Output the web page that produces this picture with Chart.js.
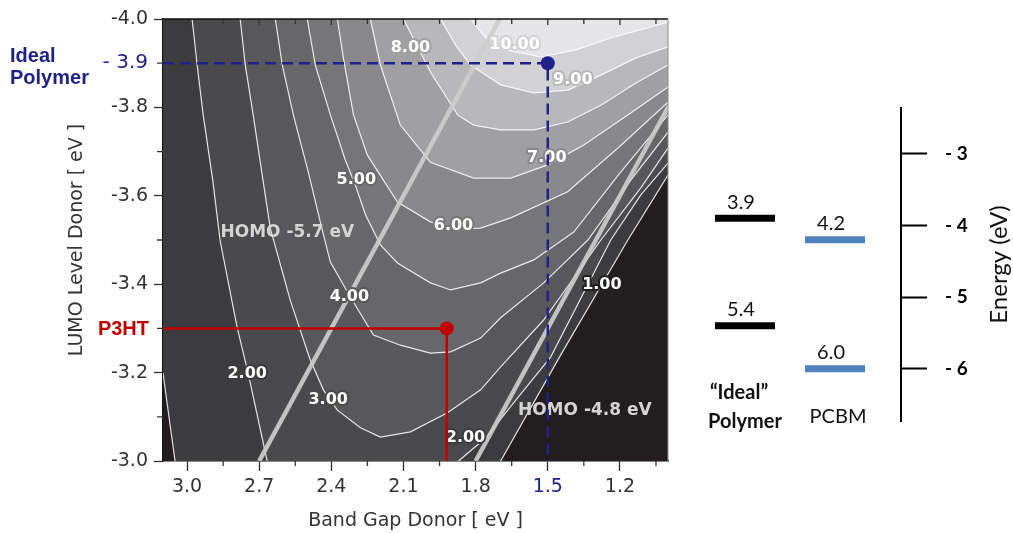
<!DOCTYPE html>
<html>
<head>
<meta charset="utf-8">
<title>Donor efficiency contours</title>
<script src="https://cdn.jsdelivr.net/npm/chart.js@4.4.1/dist/chart.umd.min.js"></script>
<style>
  html, body { margin: 0; padding: 0; background: #fff; }
  #wrap { position: relative; width: 1013px; height: 533px; }
  #contour { position: absolute; left: 0; top: 0; }
  #levels { position: absolute; left: 690px; top: 0; }
</style>
</head>
<body>
<div id="wrap">
  <canvas id="contour" width="690" height="533" style="width:690px;height:533px"></canvas>
  <canvas id="levels" width="323" height="533" style="width:323px;height:533px"></canvas>
</div>
<script>
// axis ranges and ticks
const gapMin = 1.0, gapMax = 3.1;
const lumoMin = -4.0, lumoMax = -3.0;
const gapTicks = [3.0, 2.7, 2.4, 2.1, 1.8, 1.5, 1.2];
const gapMinorTicks = [2.85, 2.55, 2.25, 1.95, 1.65, 1.35, 1.05];
const lumoTicks = [-4.0, -3.9, -3.8, -3.6, -3.4, -3.2, -3.0];
const lumoMinorTicks = [-3.9, -3.7, -3.5, -3.3, -3.1];

// efficiency contours (%), each point is [band gap, LUMO]
const contourLevels = [1, 2, 3, 4, 5, 6, 7, 8, 9, 10];
const eff1 = [[3.1,-3.199],[3.05,-3.0],[2.946,-2.821],[1.904,-2.776],[1.696,-3.0],[1.446,-3.24],[1.167,-3.5],[1.0,-3.647]];
const eff2 = [[2.979,-4.0],[2.958,-3.896],[2.933,-3.783],[2.892,-3.631],[2.863,-3.5],[2.792,-3.303],[2.746,-3.199],[2.667,-3.0],[2.571,-2.821],[2.029,-2.821],[1.871,-3.0],[1.758,-3.052],[1.633,-3.138],[1.488,-3.235],[1.238,-3.5],[1.113,-3.602],[1.0,-3.674]];
const eff3 = [[2.779,-4.0],[2.758,-3.896],[2.725,-3.783],[2.683,-3.631],[2.654,-3.527],[2.571,-3.364],[2.488,-3.229],[2.433,-3.161],[2.375,-3.115],[2.279,-3.075],[2.196,-3.054],[2.071,-3.066],[1.917,-3.109],[1.779,-3.161],[1.696,-3.213],[1.517,-3.319],[1.279,-3.5],[1.113,-3.618],[1.0,-3.708]];
const eff4 = [[2.633,-4.0],[2.604,-3.896],[2.558,-3.783],[2.496,-3.654],[2.446,-3.541],[2.404,-3.45],[2.321,-3.371],[2.225,-3.285],[2.113,-3.262],[1.988,-3.244],[1.904,-3.247],[1.779,-3.278],[1.696,-3.324],[1.517,-3.403],[1.333,-3.5],[1.154,-3.636],[1.0,-3.744]];
const eff5 = [[2.5,-4.0],[2.467,-3.896],[2.404,-3.783],[2.342,-3.681],[2.3,-3.624],[2.258,-3.557],[2.196,-3.489],[2.125,-3.448],[1.988,-3.403],[1.904,-3.387],[1.779,-3.403],[1.696,-3.425],[1.558,-3.455],[1.392,-3.518],[1.196,-3.654],[1.0,-3.783]];
const eff6 = [[2.375,-4.0],[2.35,-3.912],[2.308,-3.783],[2.25,-3.692],[2.125,-3.586],[1.988,-3.541],[1.892,-3.525],[1.779,-3.527],[1.654,-3.55],[1.417,-3.609],[1.208,-3.708],[1.0,-3.812]];
const eff7 = [[2.238,-4.0],[2.196,-3.896],[2.113,-3.76],[1.988,-3.676],[1.808,-3.64],[1.654,-3.64],[1.5,-3.67],[1.35,-3.715],[1.167,-3.783],[1.0,-3.846]];
const eff8 = [[2.1,-4.0],[1.988,-3.88],[1.875,-3.783],[1.808,-3.76],[1.696,-3.749],[1.558,-3.749],[1.417,-3.767],[1.279,-3.805],[1.133,-3.855],[1.0,-3.896]];
const eff9 = [[1.946,-4.0],[1.883,-3.941],[1.821,-3.896],[1.696,-3.851],[1.558,-3.833],[1.417,-3.839],[1.279,-3.873],[1.133,-3.912],[1.0,-3.937]];
const eff10 = [[1.821,-4.0],[1.758,-3.957],[1.675,-3.93],[1.529,-3.914],[1.383,-3.93],[1.238,-3.957],[1.0,-3.993]];
const contours = [eff1, eff2, eff3, eff4, eff5, eff6, eff7, eff8, eff9, eff10];

// inline contour labels: [text, band gap, LUMO]
const contourLabels = [
  ['1.00', 1.275, -3.398], ['2.00', 2.75, -3.197], ['2.00', 1.842, -3.052],
  ['3.00', 2.413, -3.138], ['4.00', 2.325, -3.371], ['5.00', 2.296, -3.636],
  ['6.00', 1.892, -3.532], ['7.00', 1.504, -3.686], ['8.00', 2.071, -3.934],
  ['9.00', 1.396, -3.862], ['10.00', 1.638, -3.941]
];

// constant HOMO lines (LUMO = gap + HOMO) and where their names sit
const homoLevels = [-5.7, -4.8];
const homoLabelPos = [[2.583, -3.516], [1.346, -3.115]];

// marked donors
const idealGap = 1.5, idealLumo = -3.9;
const p3htGap = 1.92, p3htLumo = -3.3;

// energy level diagram
const levelColumns = [['\u201CIdeal\u201D', 'Polymer'], ['PCBM']];
const polymerLevels = [3.9, 5.4];
const pcbmLevels = [4.2, 6.0];
const energyTicks = [-3, -4, -5, -6];

// styles
const navy = '#1f2288';
const red = '#c00000';
const baseFill = '#221e1f';
const bandFill = ['#3c3b3e', '#4a4a4d', '#58585b', '#67676a', '#767679', '#89898c', '#a0a0a3', '#b8b8bb', '#d2d2d5', '#e6e6e8'];

Chart.defaults.font.family = '"DejaVu Sans", sans-serif';

const contourSets = contours.map((pts, i) => ({
  type: 'line',
  label: contourLevels[i] + '%',
  data: pts.map(p => ({x: p[0], y: p[1]})),
  borderColor: 'rgba(255,255,255,0.85)',
  borderWidth: 1.2,
  backgroundColor: bandFill[i],
  fill: {value: lumoMin},
  pointRadius: 0,
  order: 100 - i
}));

const homoSets = homoLevels.map((h, i) => ({
  type: 'line',
  label: 'HOMO ' + h,
  data: [lumoMax, lumoMin].map(l => ({x: l - h, y: l})),
  borderColor: 'rgba(204,204,204,0.92)',
  borderWidth: 4.5,
  pointRadius: 0,
  fill: false,
  order: 11 - i
}));

const markerSets = [
  {
    type: 'line', label: 'ideal guide', labelsBelow: true,
    data: [{x: gapMax, y: idealLumo}, {x: idealGap, y: idealLumo}, {x: idealGap, y: lumoMax}],
    borderColor: navy, borderWidth: 2.5, borderDash: [11, 6], pointRadius: 0, fill: false, order: 4
  },
  {
    type: 'line', label: 'P3HT guide',
    data: [{x: gapMax, y: p3htLumo}, {x: p3htGap, y: p3htLumo}, {x: p3htGap, y: lumoMax}],
    borderColor: red, borderWidth: 2.5, pointRadius: 0, fill: false, order: 3
  },
  {
    type: 'scatter', label: 'ideal',
    data: [{x: idealGap, y: idealLumo}],
    pointRadius: 7, pointBackgroundColor: navy, pointBorderWidth: 0, order: 2
  },
  {
    type: 'scatter', label: 'P3HT',
    data: [{x: p3htGap, y: p3htLumo}],
    pointRadius: 7, pointBackgroundColor: red, pointBorderWidth: 0, order: 1
  }
];

const contourDecor = {
  id: 'contourDecor',
  beforeDatasetsDraw(chart) {
    const {ctx, chartArea: a} = chart;
    ctx.save();
    ctx.fillStyle = baseFill;
    ctx.fillRect(a.left, a.top, a.right - a.left, a.bottom - a.top);
    ctx.restore();
  },
  beforeDatasetDraw(chart, args) {
    if (!chart.data.datasets[args.index].labelsBelow) return;
    const {ctx, scales: {x, y}} = chart;
    ctx.save();
    ctx.textAlign = 'center';
    ctx.textBaseline = 'middle';
    ctx.font = 'bold 16px "DejaVu Sans"';
    ctx.lineWidth = 4;
    ctx.lineJoin = 'round';
    contourLabels.forEach(([t, g, l]) => {
      const lvl = Math.round(parseFloat(t));
      const px = x.getPixelForValue(g), py = y.getPixelForValue(l);
      // halo in the band colour so the white line breaks under the text
      ctx.strokeStyle = lvl > 1 ? bandFill[lvl - 2] : baseFill;
      ctx.strokeText(t, px, py);
      ctx.fillStyle = '#ffffff';
      ctx.fillText(t, px, py);
    });
    ctx.font = 'bold 17px "DejaVu Sans"';
    ctx.fillStyle = '#d4d4d4';
    homoLevels.forEach((h, i) => {
      ctx.fillText('HOMO ' + h + ' eV', x.getPixelForValue(homoLabelPos[i][0]), y.getPixelForValue(homoLabelPos[i][1]));
    });
    ctx.restore();
  },
  afterDraw(chart) {
    const {ctx, chartArea: a, scales: {x, y}} = chart;
    ctx.save();
    ctx.strokeStyle = '#333';
    ctx.lineWidth = 1.3;
    ctx.beginPath();
    gapMinorTicks.forEach(v => {
      const px = x.getPixelForValue(v);
      ctx.moveTo(px, a.bottom); ctx.lineTo(px, a.bottom + 5);
      ctx.moveTo(px, a.top); ctx.lineTo(px, a.top + 5);
    });
    gapTicks.forEach(v => {
      const px = x.getPixelForValue(v);
      ctx.moveTo(px, a.top); ctx.lineTo(px, a.top + 6);
    });
    lumoMinorTicks.forEach(v => {
      const py = y.getPixelForValue(v);
      ctx.moveTo(a.left - 6, py); ctx.lineTo(a.left, py);
    });
    ctx.stroke();
    // frame top and right
    ctx.strokeStyle = '#111';
    ctx.lineWidth = 1.5;
    ctx.beginPath();
    ctx.moveTo(a.left, a.top); ctx.lineTo(a.right, a.top);
    ctx.stroke();
    ctx.strokeStyle = '#8c8c8c';
    ctx.lineWidth = 1;
    ctx.beginPath();
    ctx.moveTo(a.right, a.top); ctx.lineTo(a.right, a.bottom);
    ctx.stroke();
    // names of the marked donors
    const iy = y.getPixelForValue(idealLumo);
    ctx.font = 'bold 20px "Liberation Sans"';
    ctx.fillStyle = navy;
    ctx.textAlign = 'left';
    ctx.textBaseline = 'alphabetic';
    ctx.fillText('Ideal', 10, iy - 1);
    ctx.fillText('Polymer', 10, iy + 21);
    ctx.fillStyle = red;
    ctx.textAlign = 'right';
    ctx.textBaseline = 'middle';
    ctx.fillText('P3HT', 149, y.getPixelForValue(p3htLumo) + 1);
    ctx.restore();
  }
};

new Chart(document.getElementById('contour'), {
  type: 'line',
  data: {datasets: [...contourSets, ...homoSets, ...markerSets]},
  options: {
    responsive: false,
    animation: false,
    events: [],
    layout: {autoPadding: false, padding: {left: 62, top: 19, right: 22, bottom: 0}},
    plugins: {legend: {display: false}, tooltip: {enabled: false}},
    scales: {
      x: {
        type: 'linear', reverse: true, min: gapMin, max: gapMax,
        afterBuildTicks: s => { s.ticks = gapTicks.map(v => ({value: v})); },
        afterFit: s => { s.height = 72; },
        grid: {drawOnChartArea: false, tickLength: 10, tickColor: '#333', tickWidth: 1.3},
        border: {color: '#111', width: 1.5},
        ticks: {
          padding: 5, maxRotation: 0, autoSkip: false,
          color: c => (c.tick && c.tick.value === idealGap ? navy : '#333'),
          font: {size: 19},
          callback: v => v.toFixed(1)
        },
        title: {display: true, text: 'Band Gap Donor [ eV ]', color: '#333', font: {size: 19}, padding: {top: 0, bottom: 1}}
      },
      y: {
        type: 'linear', reverse: true, min: lumoMin, max: lumoMax,
        afterBuildTicks: s => { s.ticks = lumoTicks.map(v => ({value: v})); },
        afterFit: s => { s.width = 101; },
        grid: {
          drawOnChartArea: false, tickLength: 9, tickWidth: 1.3,
          tickColor: c => (c.tick && c.tick.value === idealLumo ? 'rgba(0,0,0,0)' : '#333')
        },
        border: {color: '#111', width: 1.5},
        ticks: {
          padding: 6,
          color: c => (c.tick && c.tick.value === idealLumo ? navy : '#333'),
          font: c => ({size: c.tick && c.tick.value === idealLumo ? 20 : 19}),
          callback: v => (v === idealLumo ? '- ' + Math.abs(v).toFixed(1) : v.toFixed(1))
        },
        title: {display: true, text: 'LUMO Level Donor [ eV ]', color: '#333', font: {size: 19}}
      }
    }
  },
  plugins: [contourDecor]
});

// right-hand energy diagram
const levelText = {
  id: 'levelText',
  afterDatasetsDraw(chart) {
    const {ctx, chartArea: a, scales: {x}} = chart;
    ctx.save();
    ctx.fillStyle = '#111';
    ctx.textAlign = 'center';
    ctx.textBaseline = 'middle';
    ctx.font = '20px Lato';
    chart.data.datasets.forEach((ds, i) => {
      chart.getDatasetMeta(i).data.forEach((pt, j) => {
        ctx.fillText(ds.levels[j].toFixed(1), pt.x - 4, pt.y - 16);
      });
    });
    ctx.font = 'bold 20px Lato';
    ctx.fillText(levelColumns[0][0], x.getPixelForValue(1) - 6, a.bottom - 28);
    ctx.fillText(levelColumns[0][1], x.getPixelForValue(1), a.bottom + 1);
    ctx.font = '20px Lato';
    ctx.fillText(levelColumns[1][0], x.getPixelForValue(2) + 3, a.bottom - 4);
    ctx.translate(chart.width - 14, (a.top + a.bottom) / 2);
    ctx.rotate(-Math.PI / 2);
    ctx.font = '24px Lato';
    ctx.fillText('Energy (eV)', 0, 0);
    ctx.restore();
  }
};

new Chart(document.getElementById('levels'), {
  type: 'scatter',
  data: {
    datasets: [
      {
        label: 'polymer', levels: polymerLevels,
        data: polymerLevels.map(v => ({x: 1, y: -v})),
        pointStyle: 'line', pointRadius: 30, pointBorderWidth: 7, pointBorderColor: '#000'
      },
      {
        label: 'PCBM', levels: pcbmLevels,
        data: pcbmLevels.map(v => ({x: 2, y: -v})),
        pointStyle: 'line', pointRadius: 30, pointBorderWidth: 7, pointBorderColor: '#4f81bd'
      }
    ]
  },
  options: {
    responsive: false,
    animation: false,
    events: [],
    layout: {autoPadding: false, padding: {left: 10, top: 108, right: 0, bottom: 112}},
    plugins: {legend: {display: false}, tooltip: {enabled: false}},
    scales: {
      x: {type: 'linear', display: false, min: 0.5, max: 2.733},
      y: {
        position: 'right', min: -6.73, max: -2.36,
        afterBuildTicks: s => { s.ticks = energyTicks.map(v => ({value: v})); },
        afterFit: s => { s.width = 112; },
        grid: {drawOnChartArea: false, tickLength: 26, tickColor: '#000', tickWidth: 2},
        border: {display: true, color: '#000', width: 2},
        ticks: {
          padding: 18, color: '#000',
          font: {family: 'Lato', size: 19, weight: 'bold'},
          callback: v => '- ' + Math.abs(v)
        }
      }
    }
  },
  plugins: [levelText]
});
</script>
</body>
</html>
